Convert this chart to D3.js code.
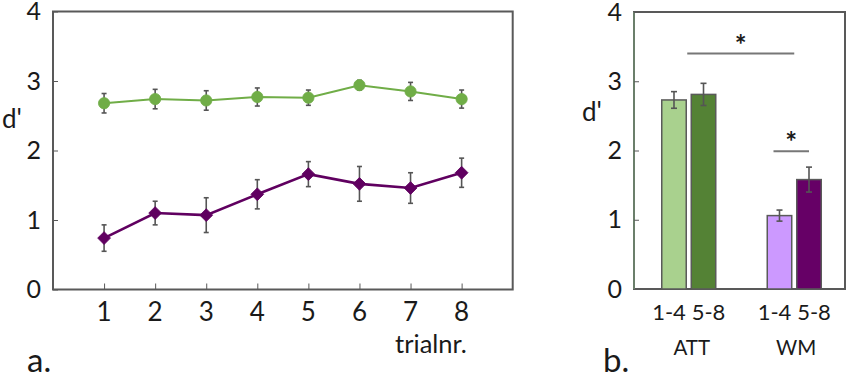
<!DOCTYPE html>
<html><head><meta charset="utf-8">
<script src="https://cdn.jsdelivr.net/npm/d3@7"></script>
<style>body{margin:0;background:#fff}svg{display:block}text{font-family:Lato,"Open Sans",sans-serif;fill:#1a1a1a}</style>
</head><body><svg id="c" width="850" height="375"></svg>
<script>
// ---- data ----
const trials = [1,2,3,4,5,6,7,8];
const attMean = [2.68,2.74,2.72,2.77,2.76,2.94,2.85,2.74];
const attErr  = [0.14,0.14,0.14,0.13,0.11,0.07,0.13,0.13];
const wmMean  = [0.74,1.10,1.07,1.37,1.66,1.52,1.46,1.68];
const wmErr   = [0.19,0.17,0.25,0.21,0.18,0.25,0.22,0.21];
const yTicks = [0,1,2,3,4];
const groups = ["ATT","WM"];
const halves = ["1-4","5-8"];
const barMean = [[2.73,2.81],[1.06,1.58]];
const barErr  = [[0.12,0.16],[0.08,0.18]];

const svg = d3.select("#c");
const frameCol = "#595959", errCol = "#555";

// ---- panel a ----
const xA = d3.scaleLinear().domain([0,9]).range([53,512.7]);
const y = d3.scaleLinear().domain([0,4]).range([289.5,11.5]);

const gA = svg.append("g");
gA.append("rect").attr("x",53).attr("y",11.5).attr("width",459.7).attr("height",278)
  .attr("fill","none").attr("stroke",frameCol).attr("stroke-width",2);
const yAxA = gA.append("g").attr("transform","translate(53,0)")
  .call(d3.axisRight(y).tickValues(yTicks).tickSize(5).tickFormat(""));
yAxA.select(".domain").remove();
yAxA.selectAll("line").attr("stroke",frameCol);
gA.selectAll(".yl").data(yTicks).join("text").attr("x",41).attr("y",d=>y(d)+8.5)
  .attr("text-anchor","end").attr("font-size",25).text(d=>d);
const xAx = gA.append("g").attr("transform","translate(0,289.5)")
  .call(d3.axisTop(xA).tickValues(trials).tickSize(6).tickFormat(""));
xAx.select(".domain").remove();
xAx.selectAll("line").attr("stroke",frameCol);
gA.selectAll(".xl").data(trials).join("text").attr("x",d=>xA(d)).attr("y",321)
  .attr("text-anchor","middle").attr("font-size",26).text(d=>d);
gA.append("text").attr("x",431).attr("y",353).attr("text-anchor","middle").attr("font-size",25.5).text("trialnr.");
gA.append("text").attr("x",2).attr("y",128).attr("font-size",26).text("d'");
gA.append("text").attr("x",27).attr("y",372).attr("font-size",33).text("a.");

function series(mean, err, color, lw, diamond){
  const pts = trials.map((t,i)=>({x:t,m:mean[i],e:err[i]}));
  const eg = gA.append("g").attr("stroke",errCol).attr("stroke-width",1.6);
  pts.forEach(p=>{
    eg.append("line").attr("x1",xA(p.x)).attr("x2",xA(p.x)).attr("y1",y(p.m+p.e)).attr("y2",y(p.m-p.e));
    [p.m+p.e,p.m-p.e].forEach(v=>eg.append("line").attr("x1",xA(p.x)-2.5).attr("x2",xA(p.x)+2.5).attr("y1",y(v)).attr("y2",y(v)));
  });
  gA.append("path").datum(pts).attr("fill","none").attr("stroke",color).attr("stroke-width",lw)
    .attr("d",d3.line().x(d=>xA(d.x)).y(d=>y(d.m)));
  gA.selectAll(null).data(pts).join("path")
    .attr("transform",d=>`translate(${xA(d.x)},${y(d.m)})` + (diamond?" rotate(45)":""))
    .attr("d",d3.symbol().type(diamond?d3.symbolSquare:d3.symbolCircle).size(diamond?82:100))
    .attr("fill",color).attr("stroke",color).attr("stroke-width",0.8);
}
series(attMean, attErr, "#70ad47", 2, false);
series(wmMean, wmErr, "#600060", 2.6, true);

// ---- panel b ----
const gB = svg.append("g");
const x0 = d3.scaleBand().domain(groups).range([636,847]);
const x1 = d3.scaleBand().domain(halves).range([-27,27]).paddingInner(0.17);
const yB = d3.scaleLinear().domain([0,4]).range([289,12]);
gB.append("rect").attr("x",634).attr("y",12).attr("width",211).attr("height",277)
  .attr("fill","none").attr("stroke",frameCol).attr("stroke-width",2);
gB.append("line").attr("x1",634).attr("x2",634).attr("y1",12).attr("y2",289).attr("stroke","#6b7f6b").attr("stroke-width",2);
const yAxB = gB.append("g").attr("transform","translate(634,0)")
  .call(d3.axisRight(yB).tickValues(yTicks).tickSize(5).tickFormat(""));
yAxB.select(".domain").remove();
yAxB.selectAll("line").attr("stroke",frameCol);
gB.selectAll(".yl").data(yTicks).join("text").attr("x",622).attr("y",d=>yB(d)+8.5)
  .attr("text-anchor","end").attr("font-size",25).text(d=>d);
gB.append("text").attr("x",582).attr("y",121).attr("font-size",26).text("d'");
gB.append("text").attr("x",603).attr("y",372).attr("font-size",33).text("b.");

const barCols = [["#a9d18e","#548235"],["#cc99ff","#660066"]];
const bars = [];
groups.forEach((g,gi)=>halves.forEach((h,hi)=>bars.push({g,h,m:barMean[gi][hi],e:barErr[gi][hi],c:barCols[gi][hi]})));
const bw = x1.bandwidth();
gB.selectAll(".bar").data(bars).join("rect")
  .attr("x",d=>x0(d.g)+x0.bandwidth()/2+x1(d.h)).attr("width",bw)
  .attr("y",d=>yB(d.m)).attr("height",d=>yB(0)-yB(d.m))
  .attr("fill",d=>d.c).attr("stroke","#5a5a5a").attr("stroke-width",1.5);
const eb = gB.append("g").attr("stroke",errCol).attr("stroke-width",1.6);
bars.forEach(d=>{
  const cx = x0(d.g)+x0.bandwidth()/2+x1(d.h)+bw/2;
  eb.append("line").attr("x1",cx).attr("x2",cx).attr("y1",yB(d.m+d.e)).attr("y2",yB(d.m-d.e));
  [d.m+d.e,d.m-d.e].forEach(v=>eb.append("line").attr("x1",cx-3).attr("x2",cx+3).attr("y1",yB(v)).attr("y2",yB(v)));
});
bars.forEach(d=>{
  gB.append("text").attr("x",x0(d.g)+x0.bandwidth()/2+x1(d.h)+bw/2 + (d.h==="1-4"?-5:5)).attr("y",320)
    .attr("text-anchor","middle").attr("font-size",22).text(d.h);
});
groups.forEach(g=>gB.append("text").attr("x",x0(g)+x0.bandwidth()/2+(g==="ATT"?3:2)).attr("y",355)
  .attr("text-anchor","middle").attr("font-size",20.5).text(g));

// significance annotations
const cxOf = (g,h)=>x0(g)+x0.bandwidth()/2+x1(h)+bw/2;
const sig = [
  {xa: cxOf("ATT","1-4")+bw/2+1, xb: x0("WM")+x0.bandwidth()/2, v:3.40},
  {xa: cxOf("WM","1-4")-6, xb: cxOf("WM","5-8"), v:1.99}
];
sig.forEach(s=>{
  gB.append("line").attr("x1",s.xa).attr("x2",s.xb).attr("y1",yB(s.v)).attr("y2",yB(s.v))
    .attr("stroke","#777").attr("stroke-width",2);
  gB.append("text").attr("x",(s.xa+s.xb)/2).attr("y",yB(s.v)+1).attr("text-anchor","middle")
    .attr("font-size",28).attr("font-weight","bold").text("*");
});
</script></body></html>
